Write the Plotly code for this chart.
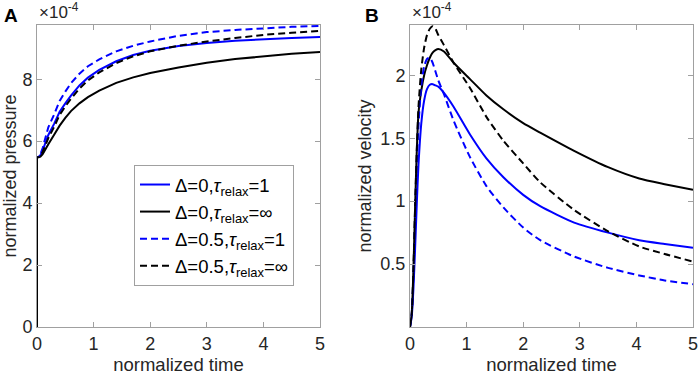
import plotly.graph_objects as go

# ---------------- data (values in units of 1e-4) ----------------
t_A = [0, 0, 0.03, 0.06, 0.1, 0.15, 0.2, 0.3, 0.4, 0.5, 0.6, 0.75, 0.9, 1.1,
       1.4, 1.7, 2.0, 2.5, 3.0, 3.5, 4.0, 4.5, 5.0]
p_d0_t1 = [0, 5.48, 5.49, 5.55, 5.7, 5.95, 6.2, 6.55, 6.95, 7.22, 7.47, 7.8, 8.05, 8.3,
           8.58, 8.78, 8.92, 9.07, 9.17, 9.24, 9.29, 9.33, 9.36]
p_d0_tinf = [0, 5.48, 5.48, 5.5, 5.58, 5.72, 5.9, 6.2, 6.5, 6.75, 6.97, 7.22, 7.42, 7.63,
             7.88, 8.06, 8.2, 8.38, 8.53, 8.65, 8.74, 8.82, 8.88]
p_d05_t1 = [0, 5.48, 5.5, 5.58, 5.78, 6.1, 6.45, 6.85, 7.3, 7.6, 7.87, 8.18, 8.42, 8.64,
            8.9, 9.08, 9.22, 9.4, 9.52, 9.59, 9.65, 9.69, 9.72]
p_d05_tinf = [0, 5.48, 5.49, 5.53, 5.65, 5.88, 6.1, 6.45, 6.85, 7.12, 7.37, 7.7, 7.96, 8.22,
              8.52, 8.74, 8.9, 9.08, 9.22, 9.33, 9.43, 9.5, 9.56]

t_B = [0, 0.03, 0.06, 0.09, 0.12, 0.15, 0.2, 0.25, 0.3, 0.35, 0.4, 0.45, 0.5, 0.6,
       0.77, 1.06, 1.35, 1.65, 2.0, 2.3, 2.9, 3.5, 4.05, 4.5, 5.0]
v_d0_t1 = [0, 0.08, 0.3, 0.62, 0.98, 1.29, 1.62, 1.8, 1.89, 1.925, 1.93, 1.92, 1.91, 1.86,
           1.75, 1.53, 1.34, 1.19, 1.05, 0.96, 0.83, 0.75, 0.69, 0.66, 0.63]
v_d0_tinf = [0, 0.1, 0.45, 0.95, 1.4, 1.7, 1.88, 2.0, 2.08, 2.14, 2.18, 2.2, 2.21, 2.19,
             2.1, 1.97, 1.84, 1.73, 1.62, 1.545, 1.4, 1.27, 1.18, 1.135, 1.09]
v_d05_t1 = [0, 0.1, 0.4, 0.85, 1.3, 1.6, 1.92, 2.07, 2.13, 2.14, 2.1, 2.03, 1.96, 1.85,
            1.64, 1.35, 1.12, 0.95, 0.79, 0.69, 0.56, 0.47, 0.41, 0.37, 0.34]
v_d05_tinf = [0, 0.1, 0.45, 0.95, 1.4, 1.75, 2.05, 2.22, 2.32, 2.37, 2.39, 2.37, 2.32, 2.24,
              2.1, 1.9, 1.67, 1.48, 1.3, 1.15, 0.93, 0.76, 0.64, 0.58, 0.52]

names = ["Δ=0,<i>τ</i><sub>relax</sub>=1",
         "Δ=0,<i>τ</i><sub>relax</sub>=∞",
         "Δ=0.5,<i>τ</i><sub>relax</sub>=1",
         "Δ=0.5,<i>τ</i><sub>relax</sub>=∞"]
colors = ["#0000FF", "#000000", "#0000FF", "#000000"]
dashes = ["solid", "solid", "7px,4px", "7px,4px"]

x_ticks = [0, 1, 2, 3, 4, 5]
yA_ticks = [0, 2, 4, 6, 8]
yB_ticks = [0.5, 1, 1.5, 2]

# ---------------- figure ----------------
fig = go.Figure()
seriesA = [p_d0_t1, p_d0_tinf, p_d05_t1, p_d05_tinf]
seriesB = [v_d0_t1, v_d0_tinf, v_d05_t1, v_d05_tinf]
for i in range(4):
    fig.add_trace(go.Scatter(x=t_A, y=seriesA[i], mode="lines", name=names[i],
                             line=dict(color=colors[i], width=2, dash=dashes[i]),
                             xaxis="x", yaxis="y", showlegend=True))
for i in range(4):
    fig.add_trace(go.Scatter(x=t_B, y=seriesB[i], mode="lines", name=names[i],
                             line=dict(color=colors[i], width=2, dash=dashes[i],
                                       shape="spline", smoothing=0.6),
                             xaxis="x2", yaxis="y2", showlegend=False))

W, H = 699, 377
ml, mr, mt, mb = 37, 6, 25, 50
pw = W - ml - mr
ph = H - mt - mb

def px2x(px):
    return (px - ml) / pw

def py2y(py):
    return (H - mb - py) / ph

axis_common = dict(showline=True, linecolor="#a0a0a0", linewidth=1, mirror="ticks",
                   ticks="inside", ticklen=5, tickcolor="#a0a0a0", showgrid=False,
                   zeroline=False, tickfont=dict(size=18, color="#262626"),
                   automargin=False)

fig.update_layout(
    width=W, height=H,
    margin=dict(l=ml, r=mr, t=mt, b=mb, autoexpand=False),
    paper_bgcolor="white", plot_bgcolor="white",
    font=dict(family="Liberation Sans, Arial, sans-serif", color="#262626"),
    xaxis=dict(domain=[0, px2x(320)], range=[0, 5], tickvals=x_ticks,
               title=dict(text="normalized time", font=dict(size=18.5), standoff=4),
               anchor="y", **axis_common),
    yaxis=dict(domain=[0, 1], range=[0, 9.75], tickvals=yA_ticks,
               title=dict(text="normalized pressure", font=dict(size=18), standoff=4),
               anchor="x", **axis_common),
    xaxis2=dict(domain=[px2x(410), 1], range=[0, 5], tickvals=x_ticks,
                title=dict(text="normalized time", font=dict(size=18.5), standoff=4),
                anchor="y2", **axis_common),
    yaxis2=dict(domain=[0, 1], range=[0, 2.40], tickvals=yB_ticks,
                title=dict(text="normalized velocity", font=dict(size=18), standoff=4),
                anchor="x2", **axis_common),
    legend=dict(x=px2x(134), y=py2y(165), xanchor="left", yanchor="top",
                bgcolor="white", bordercolor="#a0a0a0", borderwidth=1,
                font=dict(size=18.5, color="#000000"), itemwidth=30,
                tracegroupgap=0),
    showlegend=True,
)

annotations = [
    dict(text="<b>A</b>", x=px2x(2), y=py2y(3), xref="paper", yref="paper",
         xanchor="left", yanchor="top", showarrow=False, font=dict(size=19, color="#000")),
    dict(text="<b>B</b>", x=px2x(363), y=py2y(3), xref="paper", yref="paper",
         xanchor="left", yanchor="top", showarrow=False, font=dict(size=19, color="#000")),
    dict(text="×10<sup>-4</sup>", x=px2x(37), y=py2y(24), xref="paper", yref="paper",
         xanchor="left", yanchor="bottom", showarrow=False, font=dict(size=17, color="#262626")),
    dict(text="×10<sup>-4</sup>", x=px2x(410), y=py2y(24), xref="paper", yref="paper",
         xanchor="left", yanchor="bottom", showarrow=False, font=dict(size=17, color="#262626")),
]
fig.update_layout(annotations=annotations)

fig.write_html("out.html", config={"displayModeBar": False},
               post_script="document.body.style.margin='0px';")
